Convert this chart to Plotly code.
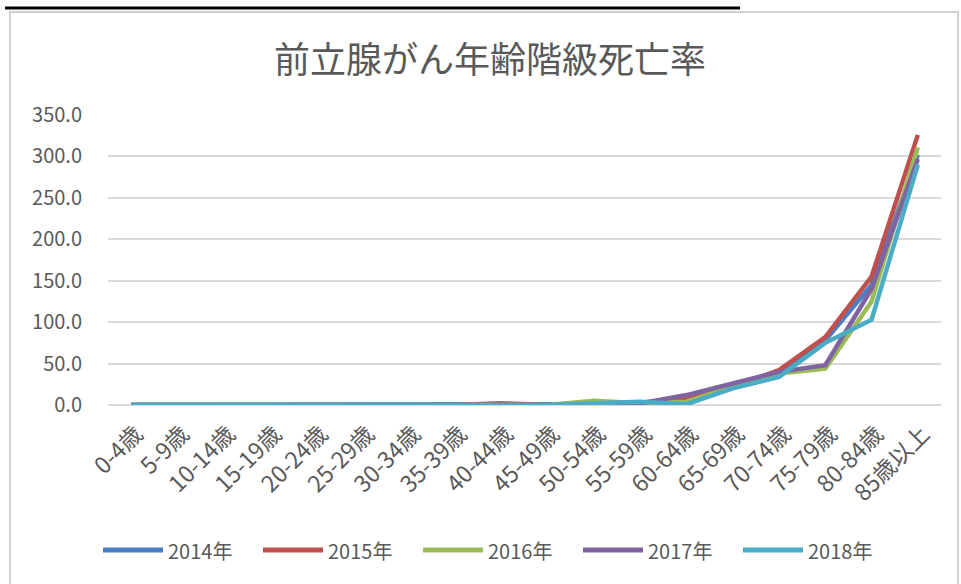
import plotly.graph_objects as go

# Age groups (x axis)
age_groups = ["0-4歳", "5-9歳", "10-14歳", "15-19歳", "20-24歳", "25-29歳",
              "30-34歳", "35-39歳", "40-44歳", "45-49歳", "50-54歳", "55-59歳",
              "60-64歳", "65-69歳", "70-74歳", "75-79歳", "80-84歳", "85歳以上"]

# Mortality rate per 100,000 by year
rate_2014 = [0, 0, 0, 0, 0, 0, 0, 0, 0.5, 0, 1, 2, 8, 22, 38, 78, 145, 302]
rate_2015 = [0, 0, 0, 0, 0, 0, 0, 0, 2, 0, 1, 3, 7, 22, 42, 82, 155, 326]
rate_2016 = [0, 0, 0, 0, 0, 0, 0, 0, 0, 0, 5, 2, 4, 22, 38, 44, 125, 311]
rate_2017 = [0, 0, 0, 0, 0, 0, 0, 0, 0, 0, 0, 2, 12, 26, 40, 48, 140, 297]
rate_2018 = [0, 0, 0, 0, 0, 0, 0, 0, 0, 0, 2, 4, 1, 20, 34, 75, 103, 290]

series = [
    ("2014年", rate_2014, "#4A7EC4"),
    ("2015年", rate_2015, "#C0504D"),
    ("2016年", rate_2016, "#9BBB59"),
    ("2017年", rate_2017, "#8064A2"),
    ("2018年", rate_2018, "#4BACC6"),
]

FONT = "Noto Sans CJK JP"
GREY = "#595959"

# plot-area geometry in pixels (used to place frame and legend in paper units)
W, H = 961, 584
L, R, T, B = 108, 20, 115, 179
PW, PH = W - L - R, H - T - B


def px_x(p):
    return (p - L) / PW


def px_y(p):
    return (H - B - p) / PH


fig = go.Figure()
for name, vals, color in series:
    fig.add_trace(go.Scatter(
        x=age_groups, y=vals, name=name, mode="lines",
        line=dict(color=color, width=4.5), showlegend=False,
    ))

fig.update_layout(
    width=W, height=H,
    paper_bgcolor="white", plot_bgcolor="white",
    margin=dict(l=L, r=R, t=T, b=B),
    font=dict(family=FONT, color=GREY),
    title=dict(text="前立腺がん年齢階級死亡率", x=490 / W, xref="container",
               xanchor="center", y=1 - 60 / H, yanchor="middle",
               font=dict(size=36, color=GREY, family=FONT)),
)

fig.update_xaxes(
    type="category", range=[-0.5, 17.5], tickangle=-45,
    tickfont=dict(size=23, color=GREY), showgrid=False,
    showline=False, ticks="", zeroline=False,
    ticklabelstandoff=10, ticklabelshift=5,
)
fig.update_yaxes(
    range=[0, 350], dtick=50, tickformat=".1f",
    tickfont=dict(size=20, color=GREY), showgrid=True,
    gridcolor="#D9D9D9", gridwidth=2, zeroline=True,
    zerolinecolor="#D9D9D9", zerolinewidth=2, ticklabelstandoff=25,
)

# Legend drawn below the plot: line sample followed by its label
legend_y = 550
for i, (name, _, color) in enumerate(series):
    x0 = 103 + 160 * i
    fig.add_shape(type="line", xref="paper", yref="paper",
                  x0=px_x(x0), x1=px_x(x0 + 60),
                  y0=px_y(legend_y), y1=px_y(legend_y),
                  line=dict(color=color, width=5))
    fig.add_annotation(xref="paper", yref="paper",
                       x=px_x(x0 + 63), y=px_y(legend_y),
                       xanchor="left", yanchor="middle", showarrow=False,
                       text=name, font=dict(size=20, color=GREY, family=FONT))

# Outer chart frame and top rule
fig.add_shape(type="rect", xref="paper", yref="paper",
              x0=px_x(10), x1=px_x(958), y0=px_y(600), y1=px_y(12),
              line=dict(color="#D0D0D0", width=2), layer="below")
fig.add_shape(type="line", xref="paper", yref="paper",
              x0=px_x(5), x1=px_x(740), y0=px_y(8), y1=px_y(8),
              line=dict(color="black", width=3))

fig.write_html("out.html")
